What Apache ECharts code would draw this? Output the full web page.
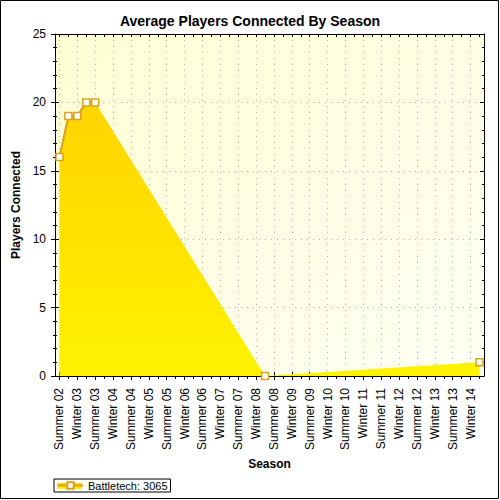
<!DOCTYPE html>
<html>
<head>
<meta charset="utf-8">
<script src="https://cdn.jsdelivr.net/npm/echarts@6/dist/echarts.min.js"></script>
<style>
html,body{margin:0;padding:0;background:#fff;}
#c{width:500px;height:500px;}
</style>
</head>
<body>
<div id="c"></div>
<script>
// Season tick labels (one per half-year)
var seasons = ['Summer 02','Winter 03','Summer 03','Winter 04','Summer 04','Winter 05',
  'Summer 05','Winter 06','Summer 06','Winter 07','Summer 07','Winter 08',
  'Summer 08','Winter 09','Summer 09','Winter 10','Summer 10','Winter 11',
  'Summer 11','Winter 12','Summer 12','Winter 13','Summer 13','Winter 14'];
// Data points sit on quarter steps: each season plus the step after it
var stepNames = [];
seasons.forEach(function (s) { stepNames.push(s); stepNames.push(s + ' (late)'); });
// Average players connected (null = no sample)
var players = [16, 19, 19, 20, 20,
  null, null, null, null, null, null, null, null, null, null, null, null, null, null, null, null, null, null,
  0,
  null, null, null, null, null, null, null, null, null, null, null, null,
  null, null, null, null, null, null, null, null, null, null, null,
  1];
var seriesName = 'Battletech: 3065';

var FONT = 'Liberation Sans';
var dotted = {color: '#b8b8b8', width: 1, type: [1, 5]};
var chart = echarts.init(document.getElementById('c'), null, {renderer: 'svg'});
var baseX = {type: 'category', data: stepNames, boundaryGap: true, gridIndex: 0};
chart.setOption({
  animation: false,
  textStyle: {fontFamily: FONT},
  title: {
    text: 'Average Players Connected By Season', left: 'center', top: 9,
    textStyle: {fontSize: 14, fontWeight: 'bold', color: '#000', fontFamily: FONT}
  },
  grid: {
    left: 55, right: 16, top: 34, bottom: 124, show: true, borderWidth: 0,
    backgroundColor: new echarts.graphic.LinearGradient(0, 0, 1, 1, [
      {offset: 0, color: '#ffffd4'}, {offset: 1, color: '#fffff4'}])
  },
  legend: {
    data: [seriesName], left: 54, top: 479, orient: 'horizontal',
    borderColor: '#000', borderWidth: 1, borderRadius: 0, padding: [1, 3, 1, 3],
    itemWidth: 25, itemHeight: 8, itemGap: 6,
    textStyle: {fontSize: 11, color: '#000', fontFamily: FONT}
  },
  graphic: [
    {type: 'rect', shape: {x: 0.5, y: 0.5, width: 498, height: 498},
     style: {fill: 'none', stroke: '#000', lineWidth: 1}, silent: true, z: 100},
    {type: 'rect', shape: {x: 57, y: 483, width: 25, height: 6},
     style: {fill: new echarts.graphic.LinearGradient(0, 0, 0, 1, [
       {offset: 0, color: '#ffd400'}, {offset: 1, color: '#fff200'}])}, silent: true, z: 1}
  ],
  xAxis: [
    Object.assign({}, baseX, {
      position: 'bottom',
      axisLine: {show: true, lineStyle: {color: '#000', width: 1}},
      axisTick: {show: true, interval: 0, alignWithLabel: true, length: 3, lineStyle: {color: '#000'}},
      axisLabel: {interval: 1, rotate: 90, fontSize: 12, color: '#000', margin: 12, fontFamily: FONT},
      splitLine: {show: true, interval: 1, alignWithLabel: true, lineStyle: dotted},
      name: 'Season', nameLocation: 'middle', nameGap: 81,
      nameTextStyle: {fontSize: 12, fontWeight: 'bold', color: '#000', fontFamily: FONT}
    }),
    Object.assign({}, baseX, {
      position: 'bottom', axisLine: {show: false}, axisLabel: {show: false}, splitLine: {show: false},
      axisTick: {show: true, interval: 1, alignWithLabel: true, length: 4, lineStyle: {color: '#000'}}
    }),
    Object.assign({}, baseX, {
      position: 'bottom', axisLine: {show: false}, axisLabel: {show: false}, splitLine: {show: false},
      axisTick: {show: true, inside: true, interval: 1, alignWithLabel: true, length: 4, lineStyle: {color: '#000'}}
    }),
    Object.assign({}, baseX, {
      position: 'top', axisLine: {show: true, lineStyle: {color: '#000'}}, axisLabel: {show: false},
      splitLine: {show: false},
      axisTick: {show: true, inside: true, interval: 0, alignWithLabel: true, length: 3, lineStyle: {color: '#000'}}
    })
  ],
  yAxis: [
    {
      type: 'value', min: 0, max: 25, interval: 5, position: 'left',
      axisLine: {show: true, lineStyle: {color: '#000'}},
      axisTick: {show: true, length: 4, lineStyle: {color: '#000'}},
      minorTick: {show: true, splitNumber: 5, length: 2, lineStyle: {color: '#000'}},
      axisLabel: {fontSize: 12, color: '#000', margin: 9, fontFamily: FONT},
      splitLine: {show: true, lineStyle: dotted},
      name: 'Players Connected', nameLocation: 'middle', nameGap: 33,
      nameTextStyle: {fontSize: 12, fontWeight: 'bold', color: '#000', fontFamily: FONT}
    },
    {
      type: 'value', min: 0, max: 25, interval: 5, position: 'left',
      axisLine: {show: false}, axisLabel: {show: false}, splitLine: {show: false},
      axisTick: {show: true, inside: true, length: 4, lineStyle: {color: '#000'}},
      minorTick: {show: true, splitNumber: 5, length: 2, lineStyle: {color: '#000'}}
    },
    {
      type: 'value', min: 0, max: 25, interval: 5, position: 'right',
      axisLine: {show: true, lineStyle: {color: '#000'}}, axisLabel: {show: false}, splitLine: {show: false},
      axisTick: {show: true, inside: true, length: 4, lineStyle: {color: '#000'}},
      minorTick: {show: true, splitNumber: 5, length: 2, lineStyle: {color: '#000'}}
    }
  ],
  series: [
    {
      name: 'area', type: 'line', xAxisIndex: 0, yAxisIndex: 0, data: players,
      connectNulls: true, showSymbol: false, symbol: 'none', silent: true,
      lineStyle: {width: 0, opacity: 0}, z: 2,
      areaStyle: {opacity: 1, color: new echarts.graphic.LinearGradient(0, 0, 0, 1, [
        {offset: 0, color: '#ffd400'}, {offset: 1, color: '#fff200'}])}
    },
    {
      name: seriesName, type: 'line', xAxisIndex: 0, yAxisIndex: 0, data: players,
      connectNulls: false, symbol: 'rect', symbolSize: 7, showSymbol: true, showAllSymbol: true, z: 3,
      lineStyle: {color: '#d9a21c', width: 2},
      itemStyle: {color: '#ffffff', borderColor: '#d9a21c', borderWidth: 1.5}
    }
  ]
});
</script>
</body>
</html>
